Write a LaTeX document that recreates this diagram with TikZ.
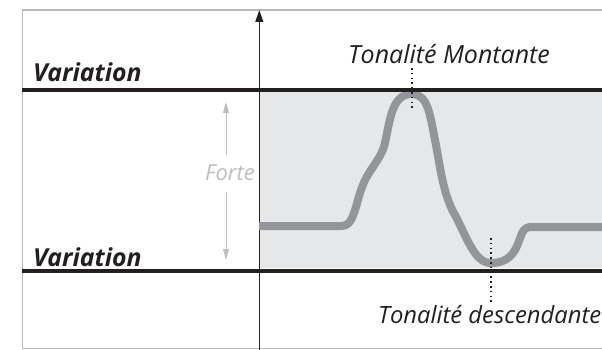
\documentclass[tikz,border=0pt]{standalone}
\usepackage{fontspec}
\setmainfont{Open Sans}
\usetikzlibrary{arrows.meta}
\definecolor{fillg}{HTML}{E6E7E8}
\definecolor{curveg}{HTML}{939598}
\definecolor{frameg}{HTML}{B8B8B8}
\definecolor{lightg}{HTML}{BCBEC0}
\definecolor{ink}{HTML}{231F20}
\tikzset{
  lab/.style={inner sep=0pt, font=\fontsize{25}{30}\selectfont\itshape, text=ink},
  labsmall/.style={inner sep=0pt, font=\fontsize{23.8}{30}\selectfont\itshape, text=ink},
  varlab/.style={inner sep=0pt, font=\fontsize{24.8}{30}\selectfont\bfseries\itshape, text=ink},
  fortelab/.style={inner sep=0pt, font=\fontsize{22}{30}\selectfont\itshape, text=lightg},
  thickline/.style={line width=4pt, draw=ink},
  frameline/.style={line width=1.3pt, draw=frameg},
  dotline/.style={line width=1.6pt, draw=ink, dash pattern=on 1.6pt off 3.2pt},
  grayarrow/.style={draw=lightg, line width=1pt, -{Triangle[length=11pt,width=6pt]}},
}
\begin{document}
\begin{tikzpicture}[x=1pt,y=-1pt]
\useasboundingbox (0,0) rectangle (602,350);
% shaded band
\fill[fillg] (259,92) rectangle (602,268);
% frame
\draw[frameline] (602,10) -- (22.5,10) -- (22.5,348.5) -- (602,348.5);
% axis
\coordinate (axb) at (259.3,350);
\coordinate (axt) at (259.3,10);
\draw[ink, line width=1pt, -{Triangle[length=12pt,width=8pt]}] (axb) -- (axt);
% curve
\draw[curveg, line width=8pt, line join=round]
  (259,226) -- (341,226) .. controls (349,226) and (352,220) .. (356,207)
  .. controls (359,196) and (362,184) .. (369,173)
  .. controls (376,162) and (382,155) .. (385,143)
  .. controls (390,120) and (392,94) .. (411.7,94)
  .. controls (428,94) and (430,115) .. (435,140)
  .. controls (440,165) and (443,195) .. (455,215)
  .. controls (468,240) and (475,263) .. (491,263)
  .. controls (507,263) and (514,255) .. (519,241)
  .. controls (523,230) and (524,227) .. (532,227) -- (602,227);
% thick lines
\draw[thickline] (22,90) -- (602,90);
\draw[thickline] (22,270.5) -- (602,270.5);
% labels
\node[varlab, anchor=base west] (v1) at (33,82) {Variation};
\node[varlab, anchor=base west] (v2) at (33,266) {Variation};
\node[lab, anchor=base west] (tm) at (348,63.3) {Tonalité Montante};
\node[labsmall, anchor=base east] (td) at (601.5,323) {Tonalité descendante};
\node[fortelab, anchor=base east] (fo) at (255,180) {Forte};
% forte arrows
\coordinate (fa1s) at (226,155);
\coordinate (fa1e) at (226,102);
\coordinate (fa2s) at (226,192);
\coordinate (fa2e) at (226,260);
\draw[grayarrow] (fa1s) -- (fa1e);
\draw[grayarrow] (fa2s) -- (fa2e);
% dotted markers
\coordinate (d1a) at (411.7,68);
\coordinate (d1b) at (411.7,111);
\coordinate (d2a) at (491,238);
\coordinate (d2b) at (491,302);
\draw[dotline] (d1a) -- (d1b);
\draw[dotline] (d2a) -- (d2b);
\end{tikzpicture}
\end{document}
